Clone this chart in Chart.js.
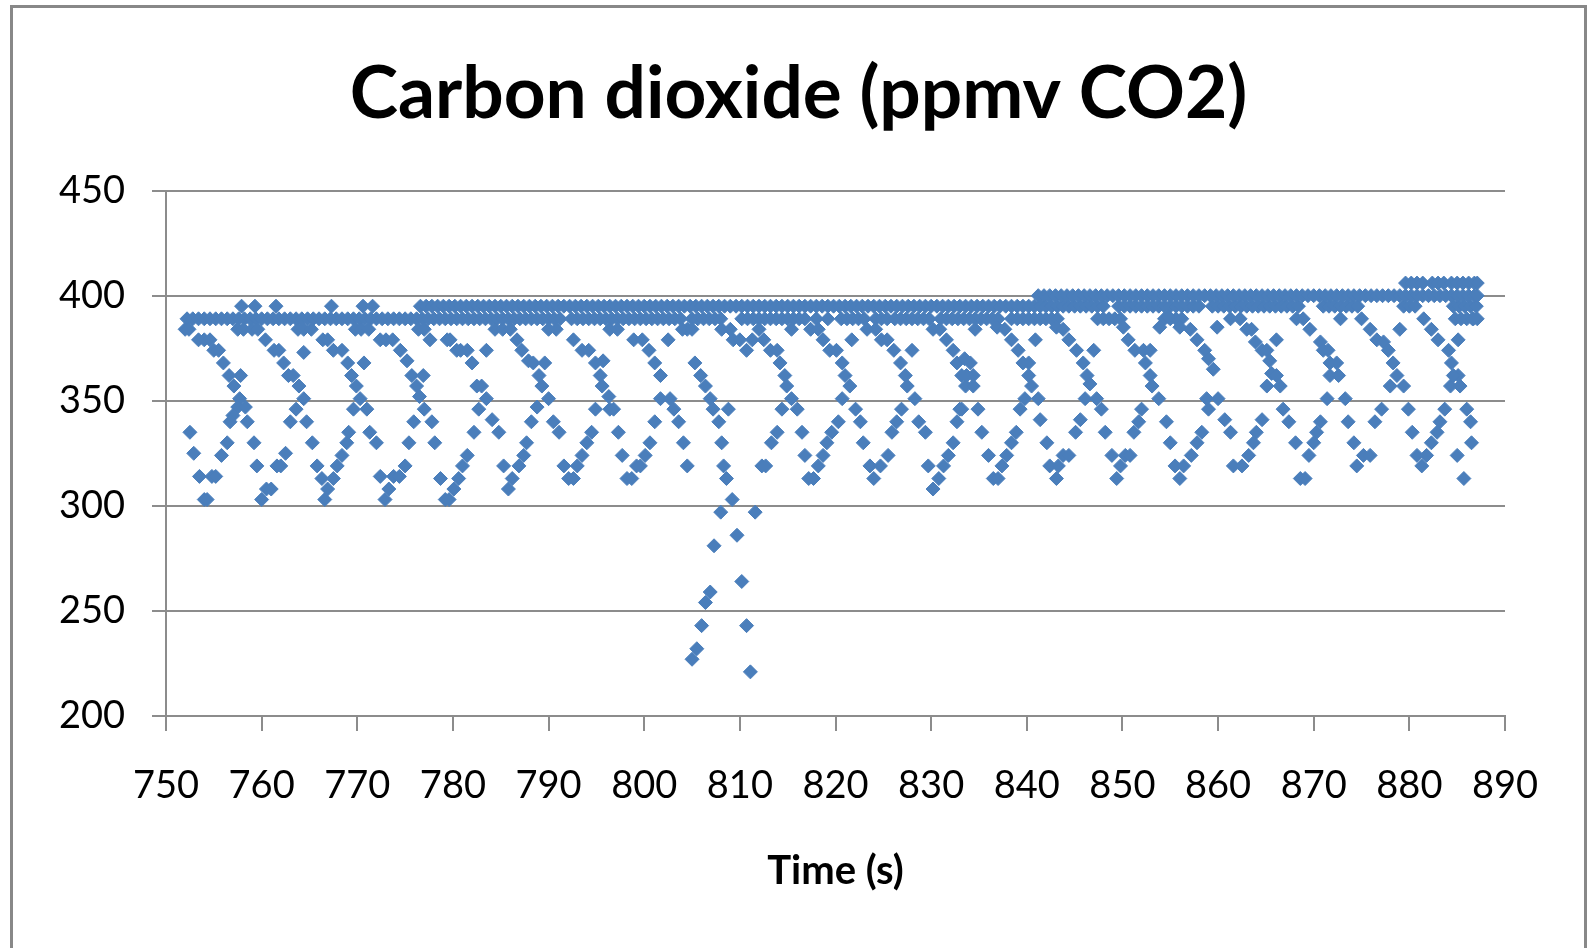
<!DOCTYPE html>
<html>
<head>
<meta charset="utf-8">
<script src="https://cdn.jsdelivr.net/npm/chart.js@4.4.1/dist/chart.umd.min.js"></script>
<style>
  html, body { margin: 0; padding: 0; background: #fff; }
  #wrap { position: relative; width: 1589px; height: 948px; overflow: hidden; }
  #frame { position: absolute; left: 10px; top: 5px; width: 1577px; height: 1000px;
           border: 3px solid #888; box-sizing: border-box; pointer-events: none; }
</style>
</head>
<body>
<div id="wrap">
  <canvas id="co2" width="1589" height="948"></canvas>
  <div id="frame"></div>
</div>
<script>
// tick labels
const xTicks = [750, 760, 770, 780, 790, 800, 810, 820, 830, 840, 850, 860, 870, 880, 890];
const yTicks = [200, 250, 300, 350, 400, 450];

// dense top band, times (s) of samples sitting at each level (ppmv)
const band389 = [752.2, 752.8, 753.4, 754.0, 754.6, 755.2, 755.8, 756.4, 757.0, 757.6, 758.2, 758.8, 759.4, 760.0,
  760.6, 761.2, 761.8, 762.4, 763.0, 763.6, 764.2, 764.8, 765.4, 766.0, 766.6, 767.2, 767.8, 768.4, 769.0, 769.6,
  770.2, 770.8, 771.4, 772.0, 772.6, 773.2, 773.8, 774.4, 775.0, 775.6, 776.2, 776.8, 777.4, 778.0, 778.6, 779.2,
  779.8, 780.4, 781.0, 781.6, 782.2, 782.8, 783.4, 784.0, 784.6, 785.2, 785.8, 786.4, 787.0, 787.6, 788.2, 788.8,
  789.4, 790.0, 790.6, 791.2, 792.4, 793.0, 793.6, 794.2, 794.8, 795.4, 796.0, 796.6, 797.2, 797.8, 798.4, 799.0,
  799.6, 800.2, 800.8, 801.4, 802.0, 802.6, 803.2, 803.8, 805.0, 805.6, 806.2, 806.8, 807.4, 808.0, 810.2, 810.8,
  811.4, 812.0, 812.6, 813.2, 813.8, 814.4, 815.0, 815.6, 816.2, 816.8, 818.0, 819.2, 820.6, 821.2, 821.8, 822.4,
  823.0, 824.2, 824.8, 825.4, 826.2, 826.8, 827.4, 828.0, 828.6, 829.2, 829.8, 831.0, 831.6, 832.2, 832.8, 833.4,
  834.0, 834.6, 835.2, 835.8, 836.4, 837.0, 838.4, 839.0, 839.6, 840.2, 840.8, 841.4, 842.0, 842.6, 843.2,
  847.4, 848.0, 848.6, 849.2, 849.8, 854.4, 855.0, 855.6, 856.2, 884.8, 885.4, 886.0, 886.6, 887.1];
const band395 = [757.9, 759.3, 761.5, 767.3, 770.6, 771.6, 776.6, 777.2, 777.8, 778.4, 779.0, 779.6, 780.2, 780.8,
  781.4, 782.0, 782.6, 783.2, 783.8, 784.4, 785.0, 785.6, 786.2, 786.8, 787.4, 788.0, 788.6, 789.2, 789.8, 790.4,
  791.0, 791.6, 792.2, 792.8, 793.4, 794.0, 794.6, 795.2, 795.8, 796.4, 797.0, 797.6, 798.2, 798.8, 799.4, 800.0,
  800.6, 801.2, 801.8, 802.4, 803.0, 803.6, 804.2, 804.8, 805.4, 806.0, 806.6, 807.2, 807.8, 808.4, 809.0, 809.6,
  810.2, 810.8, 811.4, 812.0, 812.6, 813.2, 813.8, 814.4, 815.0, 815.6, 816.2, 816.8, 817.4, 818.0, 818.6, 819.2,
  819.8, 820.4, 821.0, 821.6, 822.2, 822.8, 823.4, 824.0, 824.6, 825.2, 825.8, 826.4, 827.0, 827.6, 828.2, 828.8,
  829.4, 830.0, 830.6, 831.2, 831.8, 832.4, 833.0, 833.6, 834.2, 834.8, 835.4, 836.0, 836.6, 837.2, 837.8, 838.4,
  839.0, 839.6, 840.2, 840.8, 841.4, 842.0, 842.6, 843.2, 843.8, 844.4, 845.0, 845.6, 846.2, 846.8, 847.4, 848.0,
  849.6, 850.2, 850.8, 851.4, 852.0, 852.6, 853.2, 853.8, 854.4, 855.0, 855.6, 856.2, 856.8, 857.4, 858.0, 859.4,
  860.0, 860.6, 861.2, 861.8, 862.4, 863.0, 863.6, 864.2, 864.8, 865.4, 866.0, 866.6, 867.2, 867.8, 868.4, 871.0,
  871.6, 872.2, 872.8, 873.4, 874.0, 874.6, 879.4, 880.0, 880.6, 884.6, 885.2, 885.8, 886.4, 887.0];
const band400 = [841.2, 841.8, 842.4, 843.0, 843.6, 844.2, 844.8, 845.4, 846.0, 846.6, 847.2, 847.8, 848.4, 849.0,
  849.6, 850.2, 850.8, 851.4, 852.0, 852.6, 853.2, 853.8, 854.4, 855.0, 855.6, 856.2, 856.8, 857.4, 858.0, 858.6,
  859.2, 859.8, 860.4, 861.0, 861.6, 862.2, 862.8, 863.4, 864.0, 864.6, 865.2, 865.8, 866.4, 867.0, 867.6, 868.2,
  868.8, 869.4, 870.0, 870.6, 871.2, 871.8, 872.4, 873.0, 873.6, 874.2, 874.8, 875.4, 876.0, 876.6, 877.2, 877.8,
  878.4, 879.0, 879.6, 880.2, 880.8, 881.4, 882.0, 882.6, 883.2, 883.8, 884.4, 885.0, 885.6, 886.2, 886.8, 887.1];
const band406 = [879.6, 880.2, 880.8, 881.4, 882.4, 883.0, 883.6, 884.4, 885.0, 885.6, 886.2, 886.8, 887.1];

// scattered samples below the band, [time s, ppmv]
const early = [[752.0,384],[752.4,384],[752.5,335],[752.9,325],[753.5,314],[754.0,303],[754.3,303],[754.8,314],[755.2,314],
  [753.4,379],[754.0,379],[754.6,379],[755.0,374],[755.5,374],[756.0,368],[756.6,362],[757.1,357],[757.7,351],[757.5,347],
  [758.3,347],[757.0,343],[756.7,340],[758.5,340],[757.8,362],[756.4,330],[755.8,324],[757.5,384],[758.1,384],[759.0,384],
  [759.6,384],[759.2,330],[759.5,319],[760.0,303],[760.5,308],[761.0,308],[761.6,319],[762.0,319],[762.5,325],
  [760.4,379],[761.3,374],[761.8,374],[762.3,368],[762.8,362],[763.3,362],[763.9,357],[764.4,351],[763.6,346],[763.0,340],
  [764.7,340],[764.4,373],[763.8,384],[764.4,384],[765.2,384],[765.3,330],[765.8,319],[766.3,313],[766.6,303],[766.9,308],
  [767.5,313],[767.9,319],[768.4,324],[768.9,330],[769.1,335],[766.4,379],[766.9,379],[767.5,374],[768.4,374],[769.0,368],
  [769.4,362],[769.9,357],[770.3,351],[769.6,346],[771.0,346],[770.7,368],[769.8,384],[770.4,384],[771.2,384],[771.3,335],
  [772.0,330],[772.4,314],[772.9,303],[773.3,308],[773.8,314],[774.4,314],[775.0,319],[775.4,330],[775.9,340],[772.4,379],
  [773.0,379],[773.7,379],[774.5,374],[775.2,369],[775.7,362],[776.9,362],[776.2,357],[776.5,352],[777.0,346],[777.8,340],
  [778.1,330],[778.7,313],[779.2,303],[779.6,303],[780.1,308],[776.4,384],[777.0,384],[777.6,379]];
const middle = [[779.4,379],[779.7,379],[780.4,374],[780.8,374],[781.5,374],[782.0,368],[783.5,374],[782.5,357],[783.0,357],
  [783.5,351],[782.7,346],[782.2,335],[784.1,341],[784.8,335],[780.6,313],[781.0,319],[781.5,324],[785.3,319],[786.2,313],
  [785.8,308],[786.9,319],[787.4,324],[787.7,330],[788.2,340],[788.8,347],[786.7,379],[787.2,374],[787.9,369],[788.4,368],
  [789.6,368],[789.0,362],[789.3,357],[790.0,351],[790.5,340],[791.1,335],[791.6,319],[792.1,313],[792.6,313],[793.0,319],
  [793.5,324],[794.0,330],[794.5,335],[794.9,346],[792.6,379],[793.5,374],[794.2,374],[794.9,368],[795.4,362],[795.6,357],
  [796.3,352],[796.4,346],[795.7,369],[796.8,346],[797.3,335],[797.7,324],[798.2,313],[798.7,313],[799.2,319],[799.6,319],
  [800.1,324],[800.6,330],[801.1,340],[798.9,379],[799.8,379],[800.5,374],[801.1,368],[801.7,362],[801.7,351],[802.7,351],
  [803.1,346],[803.6,340],[804.1,330],[804.5,319],[802.5,379],[804.5,384],[784.4,384],[785.2,384],[786.0,384],[790.0,384],
  [790.8,384],[796.4,384],[797.2,384],[804.0,384]];
const dip = [[805.0,384],[805.3,368],[805.9,362],[806.4,357],[806.9,351],[807.2,346],[807.8,340],[808.8,346],[808.1,330],
  [808.3,319],[808.6,313],[809.2,303],[808.0,297],[807.3,281],[809.7,286],[811.6,297],[806.9,259],[806.4,254],[806.0,243],
  [805.5,232],[805.0,227],[810.2,264],[810.7,243],[811.1,221],[808.1,384],[809.0,384],[809.3,379],[810.0,379],[810.7,374],
  [812.0,384],[811.3,379],[812.5,379]];
const late = [[812.3,319],[812.7,319],[813.2,374],[813.9,374],[814.2,368],[814.7,362],[814.9,357],[815.4,351],[816.0,346],
  [814.4,346],[813.9,335],[813.3,330],[815.4,384],[816.5,335],[816.8,324],[817.2,313],[817.7,313],[818.2,319],[818.7,324],
  [819.1,330],[819.6,335],[820.3,340],[820.7,351],[817.4,384],[818.2,384],[818.7,379],[819.4,374],[820.1,374],[820.7,368],
  [821.0,362],[821.5,357],[821.7,379],[822.1,346],[822.6,340],[822.9,330],[823.6,319],[824.0,313],[824.7,319],[825.5,324],
  [825.9,335],[826.4,340],[826.9,346],[823.3,384],[824.2,384],[824.8,379],[825.4,379],[826.1,374],[826.8,368],[827.3,362],
  [827.5,357],[828.3,351],[828.0,374],[828.7,340],[829.4,335],[829.7,319],[830.2,308],[830.8,313],[831.3,319],[831.8,324],
  [832.3,330],[832.7,340],[833.2,346],[830.2,384],[830.9,384],[831.6,379],[832.3,374],[832.7,368],[833.2,362],[833.6,357],
  [834.1,368],[834.4,362],[834.4,357],[834.6,384],[833.5,370],[833.7,362],[833.0,346],[834.9,346],[835.3,335],[836.0,324],
  [836.5,313],[837.0,313],[837.4,319],[837.9,324],[838.4,330],[838.9,335],[839.3,346],[836.9,385],[837.7,384],[838.4,379],
  [839.1,374],[839.6,368],[840.2,368],[840.2,362],[840.5,357],[840.9,379],[839.8,351],[841.2,351],[841.4,341]];
const high = [[842.1,330],[842.4,319],[843.1,313],[843.3,319],[843.8,324],[844.4,324],[845.1,335],[845.6,341],[846.1,351],
  [843.1,385],[843.8,384],[844.4,379],[845.2,374],[845.9,368],[846.3,362],[846.6,358],[847.0,374],[847.3,351],[847.8,346],
  [848.2,335],[848.9,324],[849.4,313],[849.8,319],[850.3,324],[850.8,324],[851.2,335],[851.7,340],[852.0,346],[850.1,385],
  [850.6,379],[851.3,374],[852.2,374],[852.9,374],[852.4,368],[852.9,362],[853.1,357],[853.8,351],[853.9,385],[854.6,340],
  [855.0,330],[855.5,319],[856.0,313],[856.4,319],[857.2,324],[857.8,330],[858.3,335],[859.0,346],[858.8,351],[854.8,390],
  [856.0,385],[857.1,384],[857.8,379],[858.6,374],[859.0,370],[859.5,365],[859.9,385],[860.0,351],[860.7,341],[861.3,335],
  [861.6,319],[862.5,319],[863.2,324],[863.7,330],[864.0,335],[864.6,341],[861.3,389],[862.3,389],[863.0,384],[863.5,384],
  [863.9,378],[864.6,374],[865.1,374],[865.4,369],[865.6,363],[866.1,362],[865.1,357],[866.5,357],[866.1,379],[866.8,346],
  [867.4,340],[868.1,330],[868.6,313],[869.1,313],[869.5,324],[870.0,330],[870.3,335],[870.7,340],[871.4,351],[873.3,351],
  [868.2,389],[868.9,389],[869.6,384],[870.7,378],[871.0,374],[871.5,374],[871.7,368],[872.4,368],[871.7,362],[872.6,362],
  [872.8,389],[873.6,340],[874.2,330],[874.5,319],[875.2,324],[875.9,324],[876.4,340],[877.1,346],[878.0,357],[879.4,357],
  [879.9,346],[880.3,335],[875.0,389],[875.9,384],[876.6,379],[877.3,378],[877.8,374],[878.3,368],[878.7,362],[879.0,384],
  [880.8,324],[881.3,319],[881.8,324],[882.3,330],[882.9,335],[883.2,340],[883.7,346],[884.3,357],[885.3,357],[885.1,362],
  [881.5,389],[882.3,384],[883.0,379],[884.1,374],[884.4,368],[884.6,362],[885.1,379],[885.7,313],[885.0,324],[886.0,346],
  [886.4,340],[886.5,330],[886.7,389]];

const points = [];
const addLevel = (times, level) => times.forEach(t => points.push({ x: t, y: level }));
addLevel(band389, 389);
addLevel(band395, 395);
addLevel(band400, 400);
addLevel(band406, 406);
[early, middle, dip, late, high].forEach(list => list.forEach(([t, v]) => points.push({ x: t, y: v })));

const gridGrey = '#8c8c8c';
Chart.defaults.font.family = 'Lato';
Chart.defaults.color = '#000';

new Chart(document.getElementById('co2'), {
  type: 'scatter',
  data: {
    datasets: [{
      label: 'CO2',
      data: points,
      pointStyle: 'rectRot',
      pointRadius: 7,
      pointHoverRadius: 7,
      borderWidth: 1,
      backgroundColor: '#4a7ebb',
      borderColor: '#4a7ebb'
    }]
  },
  options: {
    responsive: false,
    animation: false,
    layout: { padding: { left: 8, right: 0, top: 0, bottom: 0 } },
    plugins: {
      legend: { display: false },
      tooltip: { enabled: false },
      title: {
        display: true,
        text: 'Carbon dioxide (ppmv CO2)',
        font: { size: 73, weight: 'bold' },
        color: '#000',
        padding: { top: 51, bottom: 52 }
      }
    },
    scales: {
      x: {
        type: 'linear',
        min: xTicks[0],
        max: xTicks[xTicks.length - 1],
        afterBuildTicks: s => { s.ticks = xTicks.map(v => ({ value: v })); },
        afterFit: s => { s.height = 232; },
        grid: { drawOnChartArea: false, drawTicks: true, tickLength: 15, color: gridGrey, lineWidth: 2 },
        border: { color: gridGrey, width: 2 },
        ticks: { font: { size: 38 }, padding: 32, color: '#000', maxRotation: 0, autoSkip: false },
        title: { display: true, text: 'Time (s)', font: { size: 40, weight: 'bold' }, color: '#000', padding: { top: 0, bottom: 53 } }
      },
      y: {
        min: yTicks[0],
        max: yTicks[yTicks.length - 1],
        afterBuildTicks: s => { s.ticks = yTicks.map(v => ({ value: v })); },
        afterFit: s => { s.width = 158; },
        grid: { color: gridGrey, lineWidth: 2, tickLength: 14 },
        border: { color: gridGrey, width: 2 },
        ticks: { font: { size: 38 }, padding: 27, color: '#000' }
      },
      yPad: {
        position: 'right',
        display: true,
        grid: { display: false },
        border: { display: false },
        ticks: { display: false },
        afterFit: s => { s.width = 84; }
      }
    }
  }
});
</script>
</body>
</html>
